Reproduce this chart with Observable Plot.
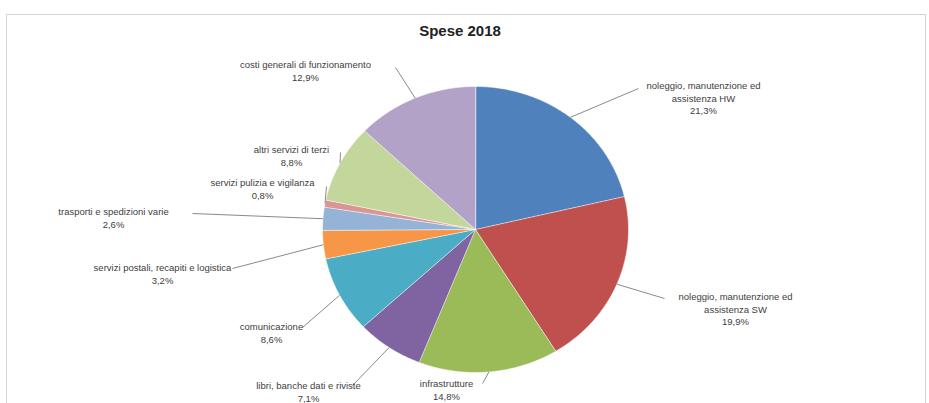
<!DOCTYPE html>
<html><head><meta charset="utf-8">
<script src="https://cdn.jsdelivr.net/npm/d3@7"></script>
<script src="https://cdn.jsdelivr.net/npm/@observablehq/plot@0.6"></script>
<style>
body{margin:0;background:#fff;}
#wrap{position:relative;width:929px;height:403px;overflow:hidden;}
#frame{position:absolute;left:6px;top:14px;width:920px;height:400px;border:1px solid #d4d4d4;box-sizing:border-box;pointer-events:none;}
</style>
</head><body>
<div id="wrap"><div id="frame"></div></div>
<script>
const title = "Spese 2018";
const categories = [
  "noleggio, manutenzione ed assistenza HW",
  "noleggio, manutenzione ed assistenza SW",
  "infrastrutture",
  "libri, banche dati e riviste",
  "comunicazione",
  "servizi postali, recapiti e logistica",
  "trasporti e spedizioni varie",
  "servizi pulizia e vigilanza",
  "altri servizi di terzi",
  "costi generali di funzionamento"
];
const labelLines = [
  "noleggio, manutenzione ed\nassistenza HW",
  "noleggio, manutenzione ed\nassistenza SW",
  "infrastrutture",
  "libri, banche dati e riviste",
  "comunicazione",
  "servizi postali, recapiti e logistica",
  "trasporti e spedizioni varie",
  "servizi pulizia e vigilanza",
  "altri servizi di terzi",
  "costi generali di funzionamento"
];
const values = [21.3, 19.9, 14.8, 7.1, 8.6, 3.2, 2.6, 0.8, 8.8, 12.9];
const colors = ["#4F81BD","#C0504D","#9BBB59","#8064A2","#4BACC6","#F79646","#95B3D7","#D99694","#C3D69B","#B3A2C7"];

// layout (pixel positions of label text centre/top and leader attachment)
const labelXY = [[703,80],[735,291],[446,378],[308,380],[271,321],[162,262],[113,206],[262,177],[291,144],[305,59]];
const attachXY = [[638,88],[664,298],[482,383],[352,385],[302,327],[232,268],[192,213],[326,186],[340,152],[395,67]];

const W = 929, H = 403, CX = 475, CY = 229, RX = 153, RY = 143;
const toU = ([px,py]) => [(px-CX)/RX, (py-CY)/RY];

const total = d3.sum(values);
let acc = 0;
const slices = categories.map((name,i) => {
  const a0 = acc/total*2*Math.PI; acc += values[i]; const a1 = acc/total*2*Math.PI;
  return {name, i, a0, a1, mid:(a0+a1)/2, v:values[i]};
});
const poly = [];
for (const s of slices) {
  poly.push({name:s.name, x:0, y:0});
  const n = Math.max(2, Math.ceil((s.a1-s.a0)/(Math.PI/180)));
  for (let k=0;k<=n;k++){ const a = s.a0 + (s.a1-s.a0)*k/n; poly.push({name:s.name, x:Math.sin(a), y:-Math.cos(a)}); }
}
const fmt = v => v.toFixed(1).replace(".", ",") + "%";
const labels = slices.map(s => {
  const [x,y] = toU(labelXY[s.i]);
  return {x, y, text: labelLines[s.i] + "\n" + fmt(s.v)};
});
const links = slices.map(s => {
  const [x2,y2] = toU(attachXY[s.i]);
  return {x1:Math.sin(s.mid), y1:-Math.cos(s.mid), x2, y2};
});

const chart = Plot.plot({
  width: W, height: H, margin: 0,
  x: {domain: [-CX/RX, (W-CX)/RX], range: [0, W], axis: null},
  y: {domain: [-CY/RY, (H-CY)/RY], range: [0, H], axis: null},
  color: {domain: categories, range: colors},
  style: {fontFamily: "Liberation Sans, Arial, sans-serif", background: "transparent"},
  marks: [
    Plot.line(poly, {x:"x", y:"y", z:"name", fill:"name", stroke:"#ffffff", strokeWidth:0.5, curve:"linear-closed"}),
    Plot.link(links, {x1:"x1", y1:"y1", x2:"x2", y2:"y2", stroke:"#8a8a8a", strokeWidth:1}),
    Plot.text(labels, {x:"x", y:"y", text:"text", lineAnchor:"top", textAnchor:"middle", fontSize:9.5, fill:"#404040", lineHeight:1.3}),
    Plot.text([title], {frameAnchor:"top", dx:-5, dy:31, text:d=>d, fontSize:15, fontWeight:"bold", fill:"#222", lineAnchor:"middle"})
  ]
});
document.getElementById("wrap").prepend(chart);
</script>
</body></html>
